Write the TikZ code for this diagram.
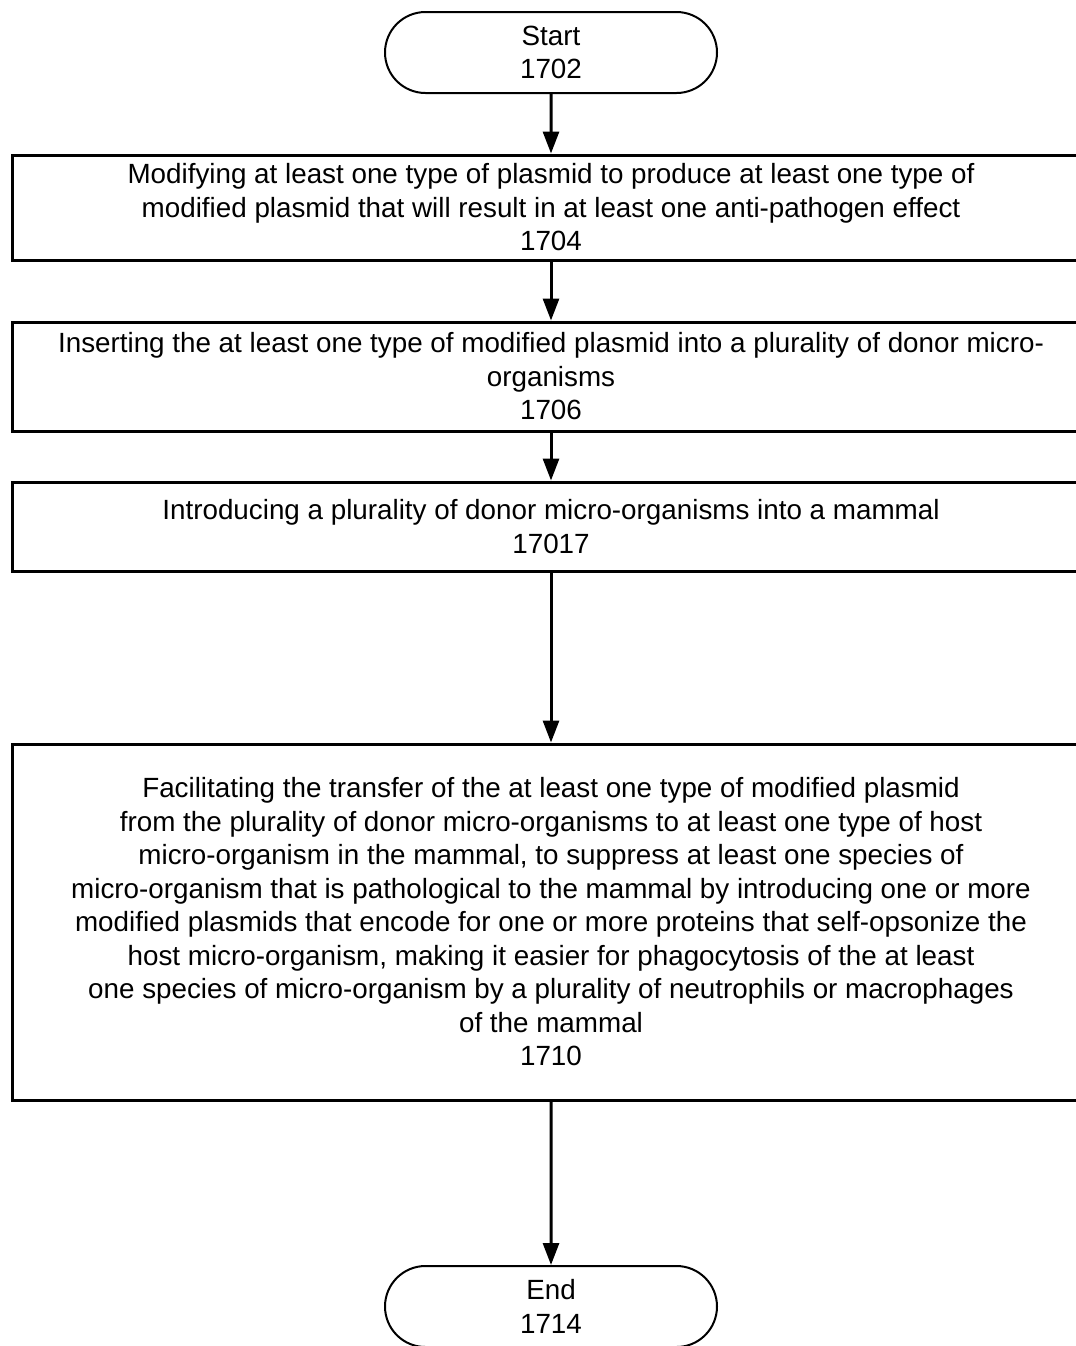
\documentclass[tikz,border=0pt]{standalone}
\usepackage{fontspec}
\setmainfont{Liberation Sans}
\usetikzlibrary{shapes.misc, arrows.meta}

\begin{document}
\begin{tikzpicture}[x=0.5pt, y=-0.5pt,
    every node/.style={font=\fontsize{13.9}{16.75}\selectfont, align=center, inner sep=0pt},
    stepbox/.style={draw, rectangle, line width=1.5pt, minimum width=539pt},
    terminal/.style={draw, rounded rectangle, line width=1pt, minimum width=166pt, minimum height=40.5pt},
    flow/.style={-{Triangle[length=11pt, width=8pt]}, line width=1.5pt}]
    %--------------------%
    % Parameters
    %--------------------%
    \def\midx{551}

    % page frame (boxes run off the right edge)
    \clip (0,0) rectangle (1076,1346);

    %--------------------%
    % Terminals
    %--------------------%
    \node[terminal] (start) at (\midx,52.5) {Start\\1702};
    \node[terminal] (finish) at (\midx,1306.5) {End\\1714};

    %--------------------%
    % Steps
    %--------------------%
    \node[stepbox, minimum height=52.5pt] (modify) at (\midx,207.5)
        {Modifying at least one type of plasmid to produce at least one type of\\
         modified plasmid that will result in at least one anti-pathogen effect\\
         1704};
    \node[stepbox, minimum height=54.5pt] (insert) at (\midx,376.5)
        {Inserting the at least one type of modified plasmid into a plurality of donor micro-\\
         organisms\\
         1706};
    \node[stepbox, minimum height=44.5pt] (introduce) at (\midx,526.5)
        {Introducing a plurality of donor micro-organisms into a mammal\\
         17017};
    \node[stepbox, minimum height=178pt] (transfer) at (\midx,922)
        {Facilitating the transfer of the at least one type of modified plasmid\\
         from the plurality of donor micro-organisms to at least one type of host\\
         micro-organism in the mammal, to suppress at least one species of\\
         micro-organism that is pathological to the mammal by introducing one or more\\
         modified plasmids that encode for one or more proteins that self-opsonize the\\
         host micro-organism, making it easier for phagocytosis of the at least\\
         one species of micro-organism by a plurality of neutrophils or macrophages\\
         of the mammal\\
         1710};

    %--------------------%
    % Connections
    %--------------------%
    \draw[flow] (start) -- (modify);
    \draw[flow] (modify) -- (insert);
    \draw[flow] (insert) -- (introduce);
    \draw[flow] (introduce) -- (transfer);
    \draw[flow] (transfer) -- (finish);
\end{tikzpicture}
\end{document}
